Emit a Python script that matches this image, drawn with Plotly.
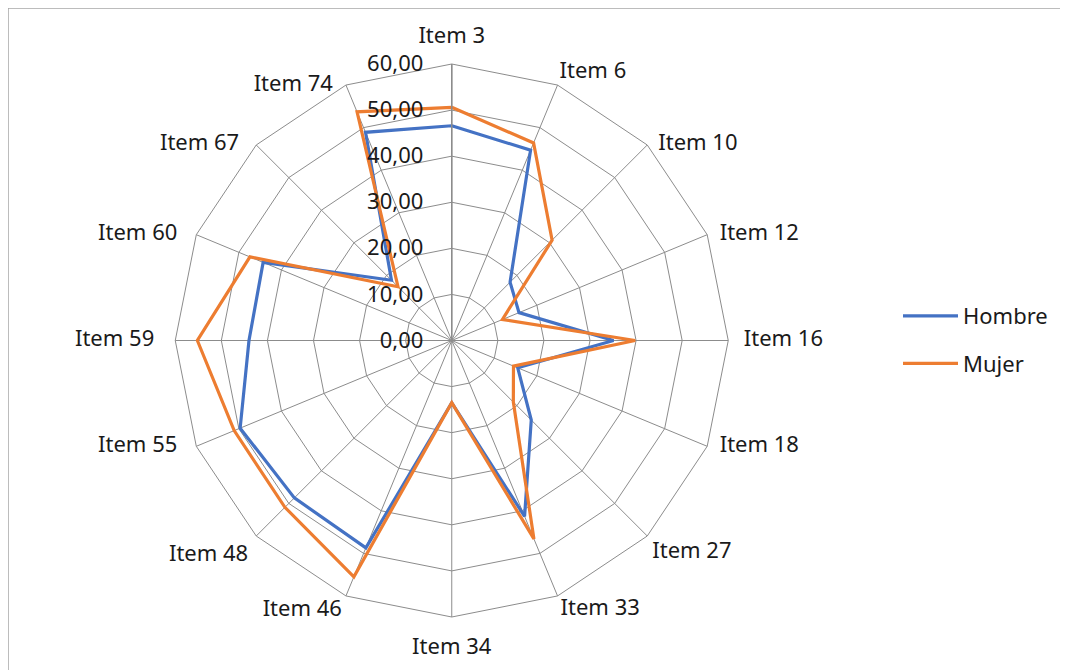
import plotly.graph_objects as go

categories = ["Item 3", "Item 6", "Item 10", "Item 12", "Item 16", "Item 18", "Item 27",
              "Item 33", "Item 34", "Item 46", "Item 48", "Item 55", "Item 59", "Item 60",
              "Item 67", "Item 74"]
hombre = [46.6, 44.7, 17.9, 15.8, 35.1, 15.5, 24.4, 41.3, 13.5, 48.7, 48.3, 49.7, 44.0, 44.3, 18.5, 48.9]
mujer = [50.6, 46.4, 30.8, 11.9, 39.8, 14.5, 18.9, 46.6, 13.5, 55.5, 51.2, 51.1, 55.2, 47.4, 16.5, 53.7]
radial_ticks = [0, 10, 20, 30, 40, 50, 60]
r_max = radial_ticks[-1]

# category label placement (style only)
label_pos = ["top center", "top right", "middle right", "middle right", "middle right",
             "middle right", "bottom right", "bottom right", "bottom center", "bottom left",
             "bottom left", "middle left", "middle left", "middle left", "middle left",
             "middle left"]
label_pad = [23.4, 1.6, 16, 18.4, 23.2, 18.4, 6.4, 3.2, 31, 4.8, 11.2, 28.8, 32, 28.8, 25.6, 19.2]

W, H = 1068, 670
cx, cy, R = 443.75, 332.5, 276.5

FONT = "Noto Sans"
GRID = "#8c8c8c"
TXT = "#1a1a1a"
FS = 22

fig = go.Figure()
fig.add_trace(go.Scatterpolar(
    r=hombre + [hombre[0]], theta=categories + [categories[0]],
    mode="lines", name="Hombre", legendgroup="h",
    line=dict(color="#4472C4", width=3.2)))
fig.add_trace(go.Scatterpolar(
    r=mujer + [mujer[0]], theta=categories + [categories[0]],
    mode="lines", name="Mujer", legendgroup="m",
    line=dict(color="#ED7D31", width=3.2)))
# category labels around the outer ring
fig.add_trace(go.Scatterpolar(
    r=[r_max] * len(categories), theta=categories,
    mode="markers+text", text=categories, textposition=label_pos,
    marker=dict(size=label_pad, opacity=0, color="white"),
    textfont=dict(family=FONT, size=FS, color=TXT),
    cliponaxis=False, showlegend=False, hoverinfo="skip"))

fig.update_layout(
    width=W, height=H,
    margin=dict(l=0, r=0, t=0, b=0),
    paper_bgcolor="white",
    separators=", ",
    font=dict(family=FONT, size=FS, color=TXT),
    polar=dict(
        domain=dict(x=[(cx - R) / W, (cx + R) / W], y=[1 - (cy + R) / H, 1 - (cy - R) / H]),
        bgcolor="white",
        gridshape="linear",
        angularaxis=dict(
            direction="clockwise", rotation=90,
            showline=True, linecolor=GRID, linewidth=1,
            gridcolor=GRID, gridwidth=1,
            showticklabels=False, ticks="",
        ),
        radialaxis=dict(
            range=[0, r_max], tickvals=radial_ticks, tickformat=".2f",
            angle=90, tickangle=90, side="counterclockwise",
            showline=True, linecolor=GRID, linewidth=1.5,
            gridcolor=GRID, gridwidth=1,
            ticks="outside", ticklen=20, tickcolor="rgba(0,0,0,0)",
            tickfont=dict(family=FONT, size=FS, color=TXT),
        ),
    ),
    legend=dict(
        x=890 / W, xanchor="left", y=1 - 332 / H, yanchor="middle",
        font=dict(family=FONT, size=FS, color=TXT),
        traceorder="grouped", tracegroupgap=16, itemwidth=55,
        bgcolor="rgba(0,0,0,0)",
    ),
    shapes=[dict(type="rect", xref="paper", yref="paper",
                 x0=0, x1=1.02, y0=-0.02, y1=1,
                 line=dict(color="#a6a6a6", width=1.5), fillcolor="rgba(0,0,0,0)",
                 layer="below")],
)

fig.write_html("out.html")
